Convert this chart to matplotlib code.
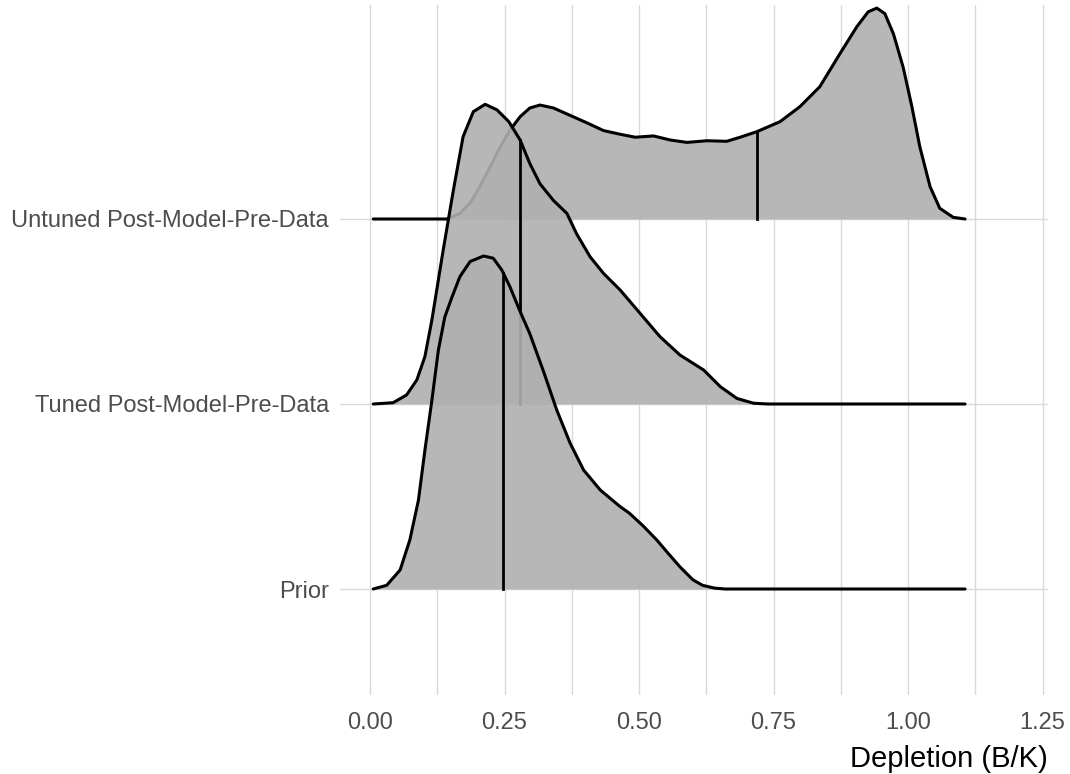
import matplotlib
matplotlib.use("Agg")
import matplotlib.pyplot as plt

plt.rcParams['font.family'] = ['Liberation Sans', 'DejaVu Sans']

categories = ["Prior", "Tuned Post-Model-Pre-Data", "Untuned Post-Model-Pre-Data"]

# density profiles (x = depletion, h = ridge height in row units)
prior_x = [0.006, 0.031, 0.056, 0.074, 0.09, 0.102, 0.115, 0.127, 0.139, 0.152,
           0.167, 0.186, 0.211, 0.229, 0.245, 0.26, 0.279, 0.297, 0.322, 0.347,
           0.372, 0.397, 0.428, 0.465, 0.482, 0.508, 0.533, 0.555, 0.576, 0.60,
           0.618, 0.64, 0.66, 1.106]
prior_h = [0.0, 0.02, 0.103, 0.265, 0.48, 0.75, 1.02, 1.29, 1.47, 1.575,
           1.688, 1.77, 1.80, 1.788, 1.724, 1.634, 1.50, 1.38, 1.18, 0.968,
           0.788, 0.643, 0.535, 0.445, 0.41, 0.34, 0.265, 0.19, 0.12, 0.05,
           0.02, 0.005, 0.0, 0.0]

tuned_x = [0.006, 0.043, 0.068, 0.087, 0.102, 0.115, 0.121, 0.136, 0.155, 0.173,
           0.192, 0.214, 0.236, 0.258, 0.279, 0.297, 0.316, 0.341, 0.366, 0.384,
           0.409, 0.434, 0.465, 0.502, 0.539, 0.576, 0.62, 0.651, 0.682, 0.713,
           0.74, 1.106]
tuned_h = [0.0, 0.007, 0.049, 0.13, 0.256, 0.454, 0.562, 0.832, 1.157, 1.445,
           1.58, 1.62, 1.59, 1.526, 1.427, 1.30, 1.19, 1.10, 1.03, 0.92,
           0.796, 0.706, 0.616, 0.49, 0.364, 0.265, 0.184, 0.094, 0.03, 0.004,
           0.0, 0.0]

untuned_x = [0.006, 0.1425, 0.167, 0.186, 0.204, 0.223, 0.242, 0.26, 0.279, 0.297,
             0.316, 0.341, 0.372, 0.403, 0.434, 0.465, 0.493, 0.527, 0.558, 0.589,
             0.626, 0.663, 0.688, 0.719, 0.762, 0.799, 0.836, 0.874, 0.905, 0.926,
             0.942, 0.957, 0.973, 0.991, 1.007, 1.022, 1.041, 1.059, 1.084, 1.106]
untuned_h = [0.0, 0.0, 0.03, 0.086, 0.175, 0.28, 0.39, 0.48, 0.553, 0.60,
             0.616, 0.60, 0.56, 0.52, 0.478, 0.458, 0.442, 0.449, 0.427, 0.414,
             0.423, 0.42, 0.442, 0.472, 0.526, 0.607, 0.715, 0.896, 1.04, 1.12,
             1.14, 1.11, 1.00, 0.82, 0.61, 0.39, 0.175, 0.058, 0.009, 0.0]

medians = [0.248, 0.279, 0.719]
median_h = [1.71, 1.427, 0.472]

xticks = [0.0, 0.25, 0.5, 0.75, 1.0, 1.25]
xticklabels = ["0.00", "0.25", "0.50", "0.75", "1.00", "1.25"]

fig = plt.figure(figsize=(10.7, 7.74), dpi=100)
ax = fig.add_axes([340 / 1070, 1 - 695 / 774, 708 / 1070, 690 / 774])

series = [(prior_x, prior_h), (tuned_x, tuned_h), (untuned_x, untuned_h)]

# draw back to front: untuned first, prior last
for i in [2, 1, 0]:
    xs, hs = series[i]
    base = i + 1
    ys = [base + h for h in hs]
    z = 10 - i * 2
    ax.fill_between(xs, base, ys, color='#B0B0B0', alpha=0.9, lw=0, zorder=z)
    ax.plot(xs, ys, color='black', lw=2.2, solid_capstyle='round',
            solid_joinstyle='round', zorder=z + 0.5)
    ax.plot([medians[i], medians[i]], [base, base + median_h[i]], color='black',
            lw=2.0, zorder=z + 0.5)

ax.set_xlim(-0.0558, 1.2602)
ax.set_ylim(1 - 106 / 185, 1 + 584 / 185)

ax.set_xticks(xticks)
ax.set_xticklabels(xticklabels)
ax.set_xticks([0.125, 0.375, 0.625, 0.875, 1.125], minor=True)
ax.set_yticks([1, 2, 3])
ax.set_yticklabels(categories)

ax.grid(True, which='both', axis='x', color='#D9D9D9', lw=1.0, zorder=0)
ax.grid(True, which='major', axis='y', color='#D9D9D9', lw=1.0, zorder=0)
ax.set_axisbelow(True)
for s in ax.spines.values():
    s.set_visible(False)
ax.tick_params(axis='both', which='both', length=0, colors='#4D4D4D', labelsize=17)
ax.tick_params(axis='x', pad=12)
ax.tick_params(axis='y', pad=8)

ax.set_xlabel("Depletion (B/K)", fontsize=21, color='black', loc='right', labelpad=8)

fig.savefig("out.png", dpi=100)
